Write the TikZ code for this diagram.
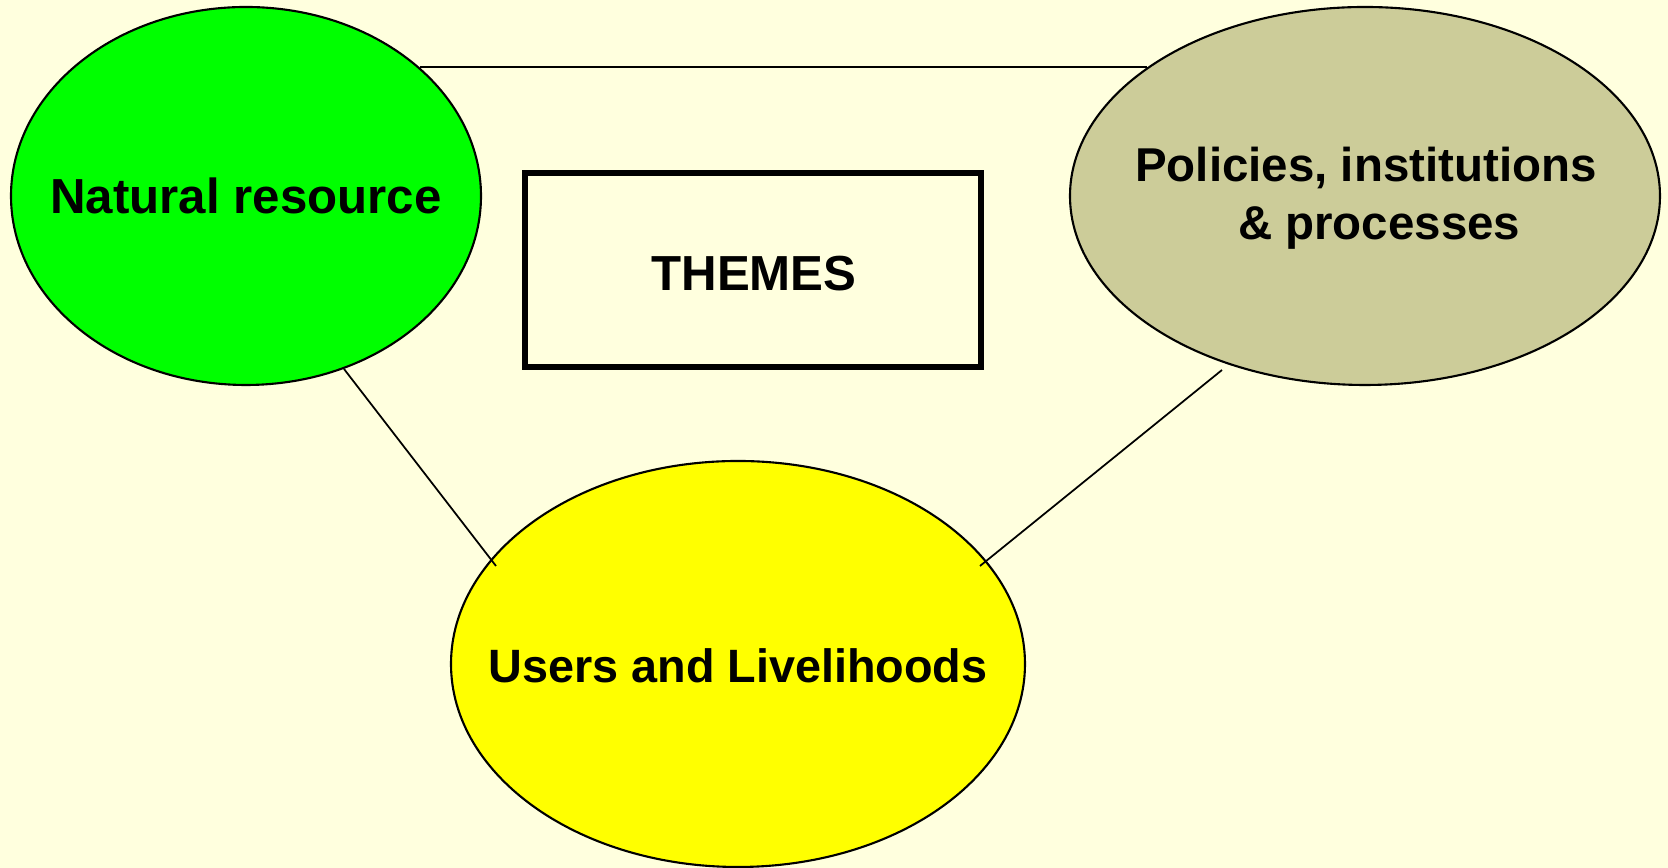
\documentclass[tikz,border=0pt]{standalone}
\usepackage{fontspec}
\setmainfont{Liberation Sans}
\usetikzlibrary{shapes.geometric}
\definecolor{bgcol}{RGB}{255,255,222}
\definecolor{nrgreen}{RGB}{0,255,0}
\definecolor{pipkhaki}{RGB}{204,204,153}
\definecolor{ulyellow}{RGB}{255,255,0}
\tikzset{
  blob/.style={ellipse, draw=black, line width=0.6pt, inner sep=0pt},
  lbl/.style={font=\bfseries\fontsize{#1}{16.5pt}\selectfont, align=center, text=black, inner sep=0pt},
  lbl/.default=14pt,
  themebox/.style={draw=black, line width=1.5pt, fill=none, inner sep=0pt, minimum width=456*0.01cm, minimum height=194*0.01cm},
  link/.style={draw=black, line width=0.5pt}
}
\begin{document}
\begin{tikzpicture}[x=0.01cm, y=-0.01cm]
\useasboundingbox[fill=bgcol] (0,0) rectangle (1668,868);
\node[blob, fill=nrgreen, minimum width=470*0.01cm, minimum height=378*0.01cm] (nr) at (246,196) {};
\node[blob, fill=pipkhaki, minimum width=590*0.01cm, minimum height=378*0.01cm] (pip) at (1365,196) {};
\node[blob, fill=ulyellow, minimum width=574*0.01cm, minimum height=406*0.01cm] (ul) at (738,664) {};
\node[themebox] (box) at (753,270) {};
\node[lbl] (nrtext) at (nr) {Natural resource};
\node[lbl=13.5pt] (piptext) at (1366,198) {Policies,\ institutions\\ \ \ \& processes};
\node[lbl] (boxtext) at (754,274) {THEMES};
\node[lbl=13.3pt] (ultext) at (738,666) {Users and Livelihoods};
\coordinate (t1) at (420,67);
\coordinate (t2) at (1147,67);
\coordinate (l1) at (344,369);
\coordinate (l2) at (496,566);
\coordinate (r1) at (1222,370);
\coordinate (r2) at (980,566);
\draw[link, line width=0.6pt] (t1) -- (t2);
\draw[link] (l1) -- (l2);
\draw[link] (r1) -- (r2);
\end{tikzpicture}
\end{document}
